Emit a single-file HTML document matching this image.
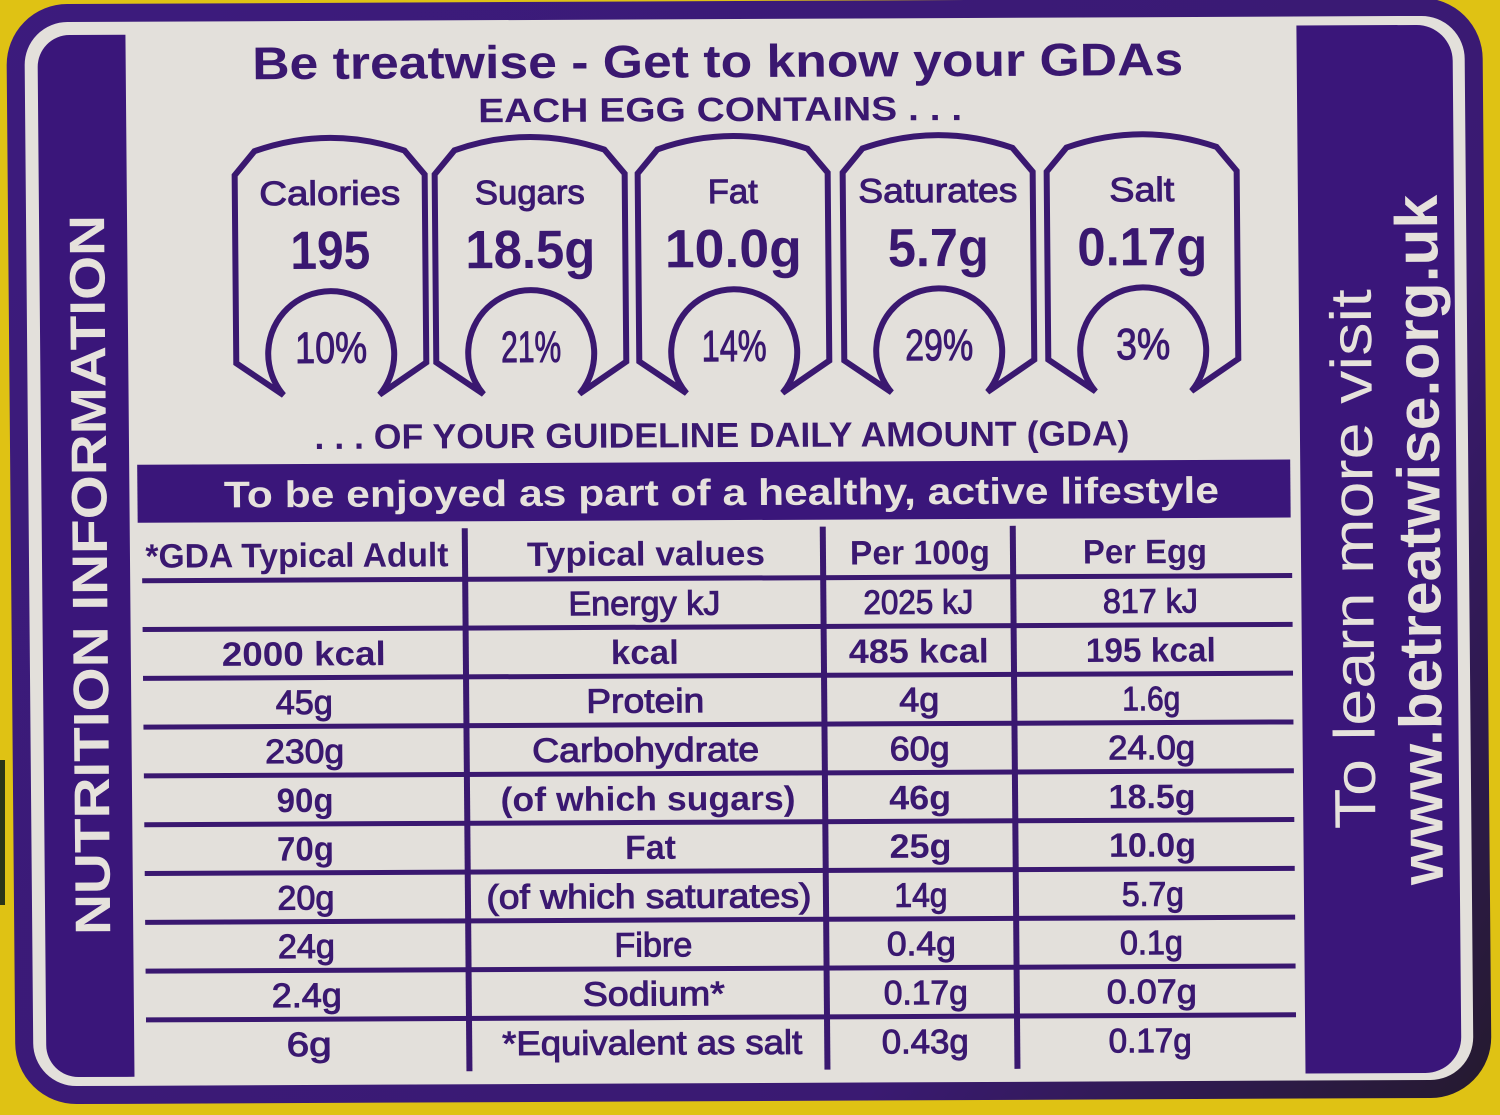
<!DOCTYPE html>
<html>
<head>
<meta charset="utf-8">
<style>
html,body{margin:0;padding:0;background:#dfc214;}
svg{display:block;}
text{font-family:"Liberation Sans",Arial,sans-serif;}
.p{fill:#3a1870;}
.w{fill:#e6e2dc;}
.rg{stroke:#3a1870;stroke-width:1px;}
.lbl{stroke:#3a1870;stroke-width:1px;}
</style>
</head>
<body>
<svg width="1500" height="1115" viewBox="0 0 1500 1115" xmlns="http://www.w3.org/2000/svg">
<defs>
  <linearGradient id="bd" gradientUnits="userSpaceOnUse" x1="0" y1="0" x2="1500" y2="1115">
    <stop offset="0" stop-color="#3c1b7d"/>
    <stop offset="0.72" stop-color="#3a1a72"/>
    <stop offset="1" stop-color="#241a2c"/>
  </linearGradient>
  <path id="gda" d="M47 258 L0 226 L0 38 L20 14 Q95 -12 170 14 L190 38 L190 226 L143 258 A63 63 0 1 0 47 258 Z" fill="none" stroke="#3a1870" stroke-width="6" stroke-linejoin="miter"/>
</defs>

<rect x="0" y="0" width="1500" height="1115" fill="#dfc214"/>
<rect x="0" y="760" width="5" height="145" fill="#2b3418"/>

<g transform="matrix(1,-0.0045,0.0087,1,-4.85,3.37)">
  <rect x="20" y="10" width="1458" height="1082" rx="52" ry="52" fill="#e3e0db" stroke="url(#bd)" stroke-width="18"/>

  <path d="M130 32 L74 32 A32 32 0 0 0 42 64 L42 1042 A32 32 0 0 0 74 1074 L130 1074 Z" fill="#3a167a"/>
  <text class="w" transform="translate(107,572) rotate(-90)" font-size="50" font-weight="bold" text-anchor="middle" textLength="720" lengthAdjust="spacingAndGlyphs">NUTRITION INFORMATION</text>

  <path d="M1301 28 L1421 28 A36 36 0 0 1 1457 64 L1457 1040 A36 36 0 0 1 1421 1076 L1301 1076 Z" fill="#3a167a"/>
  <text class="w" transform="translate(1373,562) rotate(-90)" font-size="58" text-anchor="middle" textLength="540" lengthAdjust="spacingAndGlyphs">To learn more visit</text>
  <text class="w" transform="translate(1440,543) rotate(-90)" font-size="60" font-weight="bold" text-anchor="middle" textLength="690" lengthAdjust="spacingAndGlyphs">www.betreatwise.org.uk</text>

  <text class="p" x="722" y="77" font-size="46" font-weight="bold" text-anchor="middle" textLength="931" lengthAdjust="spacingAndGlyphs">Be treatwise - Get to know your GDAs</text>
  <text class="p" x="724" y="121" font-size="34" font-weight="bold" text-anchor="middle" textLength="484" lengthAdjust="spacingAndGlyphs">EACH EGG CONTAINS . . .</text>

  <g transform="translate(238,135)">
    <use href="#gda"/>
    <text class="p lbl" x="95" y="68" font-size="34" text-anchor="middle" textLength="141" lengthAdjust="spacingAndGlyphs">Calories</text>
    <text class="p" x="95" y="132" font-size="54" font-weight="bold" text-anchor="middle" textLength="80" lengthAdjust="spacingAndGlyphs">195</text>
    <text class="p lbl" x="95" y="226" font-size="44" text-anchor="middle" textLength="72" lengthAdjust="spacingAndGlyphs">10%</text>
  </g>
  <g transform="translate(438,135)">
    <use href="#gda"/>
    <text class="p lbl" x="95" y="68" font-size="34" text-anchor="middle" textLength="110" lengthAdjust="spacingAndGlyphs">Sugars</text>
    <text class="p" x="95" y="132" font-size="54" font-weight="bold" text-anchor="middle" textLength="130" lengthAdjust="spacingAndGlyphs">18.5g</text>
    <text class="p lbl" x="95" y="226" font-size="44" text-anchor="middle" textLength="60" lengthAdjust="spacingAndGlyphs">21%</text>
  </g>
  <g transform="translate(641,135)">
    <use href="#gda"/>
    <text class="p lbl" x="95" y="68" font-size="34" text-anchor="middle" textLength="50" lengthAdjust="spacingAndGlyphs">Fat</text>
    <text class="p" x="95" y="132" font-size="54" font-weight="bold" text-anchor="middle" textLength="137" lengthAdjust="spacingAndGlyphs">10.0g</text>
    <text class="p lbl" x="95" y="226" font-size="44" text-anchor="middle" textLength="65" lengthAdjust="spacingAndGlyphs">14%</text>
  </g>
  <g transform="translate(846,135)">
    <use href="#gda"/>
    <text class="p lbl" x="95" y="68" font-size="34" text-anchor="middle" textLength="159" lengthAdjust="spacingAndGlyphs">Saturates</text>
    <text class="p" x="95" y="132" font-size="54" font-weight="bold" text-anchor="middle" textLength="101" lengthAdjust="spacingAndGlyphs">5.7g</text>
    <text class="p lbl" x="95" y="226" font-size="44" text-anchor="middle" textLength="68" lengthAdjust="spacingAndGlyphs">29%</text>
  </g>
  <g transform="translate(1050,135)">
    <use href="#gda"/>
    <text class="p lbl" x="95" y="68" font-size="34" text-anchor="middle" textLength="65" lengthAdjust="spacingAndGlyphs">Salt</text>
    <text class="p" x="95" y="132" font-size="54" font-weight="bold" text-anchor="middle" textLength="130" lengthAdjust="spacingAndGlyphs">0.17g</text>
    <text class="p lbl" x="95" y="226" font-size="44" text-anchor="middle" textLength="54" lengthAdjust="spacingAndGlyphs">3%</text>
  </g>

  <text class="p" x="723" y="447" font-size="35" font-weight="bold" text-anchor="middle" textLength="815" lengthAdjust="spacingAndGlyphs">. . . OF YOUR GUIDELINE DAILY AMOUNT (GDA)</text>

  <rect x="138" y="462" width="1153" height="58" fill="#3a167a"/>
  <text class="w" x="722" y="505" font-size="37" font-weight="bold" text-anchor="middle" textLength="995" lengthAdjust="spacingAndGlyphs">To be enjoyed as part of a healthy, active lifestyle</text>

  <g fill="#3a1870">
    <rect x="142" y="575.5" width="1150" height="5"/>
    <rect x="142" y="624.3" width="1150" height="5"/>
    <rect x="142" y="673.1" width="1150" height="5"/>
    <rect x="142" y="721.9" width="1150" height="5"/>
    <rect x="142" y="770.7" width="1150" height="5"/>
    <rect x="142" y="819.5" width="1150" height="5"/>
    <rect x="142" y="868.3" width="1150" height="5"/>
    <rect x="142" y="917.1" width="1150" height="5"/>
    <rect x="142" y="965.9" width="1150" height="5"/>
    <rect x="142" y="1014.7" width="1150" height="5"/>
    <rect x="462" y="527" width="6" height="543"/>
    <rect x="820" y="527" width="6" height="543"/>
    <rect x="1010" y="527" width="6" height="543"/>
  </g>

  <g class="p" font-size="34" font-weight="bold" text-anchor="middle">
    <text x="297" y="565" textLength="303" lengthAdjust="spacingAndGlyphs">*GDA Typical Adult</text>
    <text x="646" y="565" textLength="238" lengthAdjust="spacingAndGlyphs">Typical values</text>
    <text x="920" y="565" textLength="140" lengthAdjust="spacingAndGlyphs">Per 100g</text>
    <text x="1145" y="565" textLength="124" lengthAdjust="spacingAndGlyphs">Per Egg</text>
  </g>

  <g class="p" font-size="34" text-anchor="middle">
    <g class="rg">
      <text x="644" y="614.5" textLength="152" lengthAdjust="spacingAndGlyphs">Energy kJ</text>
      <text x="918" y="614.5" textLength="110" lengthAdjust="spacingAndGlyphs">2025 kJ</text>
      <text x="1150" y="614.5" textLength="95" lengthAdjust="spacingAndGlyphs">817 kJ</text>
    </g>
    <g font-weight="bold">
      <text x="303" y="663.5" textLength="164" lengthAdjust="spacingAndGlyphs">2000 kcal</text>
      <text x="644" y="663.5" textLength="68" lengthAdjust="spacingAndGlyphs">kcal</text>
      <text x="918" y="663.5" textLength="140" lengthAdjust="spacingAndGlyphs">485 kcal</text>
      <text x="1150" y="663.5" textLength="130" lengthAdjust="spacingAndGlyphs">195 kcal</text>
    </g>
    <g class="rg">
      <text x="303" y="712" textLength="57" lengthAdjust="spacingAndGlyphs">45g</text>
      <text x="644" y="712" textLength="118" lengthAdjust="spacingAndGlyphs">Protein</text>
      <text x="918" y="712" textLength="40" lengthAdjust="spacingAndGlyphs">4g</text>
      <text x="1150" y="712" textLength="58" lengthAdjust="spacingAndGlyphs">1.6g</text>
    </g>
    <g class="rg">
      <text x="303" y="761" textLength="79" lengthAdjust="spacingAndGlyphs">230g</text>
      <text x="644" y="761" textLength="227" lengthAdjust="spacingAndGlyphs">Carbohydrate</text>
      <text x="918" y="761" textLength="60" lengthAdjust="spacingAndGlyphs">60g</text>
      <text x="1150" y="761" textLength="87" lengthAdjust="spacingAndGlyphs">24.0g</text>
    </g>
    <g font-weight="bold">
      <text x="303" y="810" textLength="57" lengthAdjust="spacingAndGlyphs">90g</text>
      <text x="646" y="810" textLength="295" lengthAdjust="spacingAndGlyphs">(of which sugars)</text>
      <text x="918" y="810" textLength="62" lengthAdjust="spacingAndGlyphs">46g</text>
      <text x="1150" y="810" textLength="87" lengthAdjust="spacingAndGlyphs">18.5g</text>
    </g>
    <g font-weight="bold">
      <text x="303" y="858.5" textLength="57" lengthAdjust="spacingAndGlyphs">70g</text>
      <text x="648" y="858.5" textLength="51" lengthAdjust="spacingAndGlyphs">Fat</text>
      <text x="918" y="858.5" textLength="62" lengthAdjust="spacingAndGlyphs">25g</text>
      <text x="1150" y="858.5" textLength="87" lengthAdjust="spacingAndGlyphs">10.0g</text>
    </g>
    <g class="rg">
      <text x="303" y="907.5" textLength="57" lengthAdjust="spacingAndGlyphs">20g</text>
      <text x="646" y="907.5" textLength="325" lengthAdjust="spacingAndGlyphs">(of which saturates)</text>
      <text x="918" y="907.5" textLength="53" lengthAdjust="spacingAndGlyphs">14g</text>
      <text x="1150" y="907.5" textLength="62" lengthAdjust="spacingAndGlyphs">5.7g</text>
    </g>
    <g class="rg">
      <text x="303" y="956" textLength="57" lengthAdjust="spacingAndGlyphs">24g</text>
      <text x="650" y="956" textLength="78" lengthAdjust="spacingAndGlyphs">Fibre</text>
      <text x="918" y="956" textLength="69" lengthAdjust="spacingAndGlyphs">0.4g</text>
      <text x="1148" y="956" textLength="63" lengthAdjust="spacingAndGlyphs">0.1g</text>
    </g>
    <g class="rg">
      <text x="303" y="1005" textLength="70" lengthAdjust="spacingAndGlyphs">2.4g</text>
      <text x="650" y="1005" textLength="142" lengthAdjust="spacingAndGlyphs">Sodium*</text>
      <text x="922" y="1005" textLength="84" lengthAdjust="spacingAndGlyphs">0.17g</text>
      <text x="1148" y="1005" textLength="90" lengthAdjust="spacingAndGlyphs">0.07g</text>
    </g>
    <g class="rg">
      <text x="305" y="1054" textLength="45" lengthAdjust="spacingAndGlyphs">6g</text>
      <text x="648" y="1054" textLength="300" lengthAdjust="spacingAndGlyphs">*Equivalent as salt</text>
      <text x="921" y="1054" textLength="87" lengthAdjust="spacingAndGlyphs">0.43g</text>
      <text x="1146" y="1054" textLength="83" lengthAdjust="spacingAndGlyphs">0.17g</text>
    </g>
  </g>
</g>
</svg>
</body>
</html>
